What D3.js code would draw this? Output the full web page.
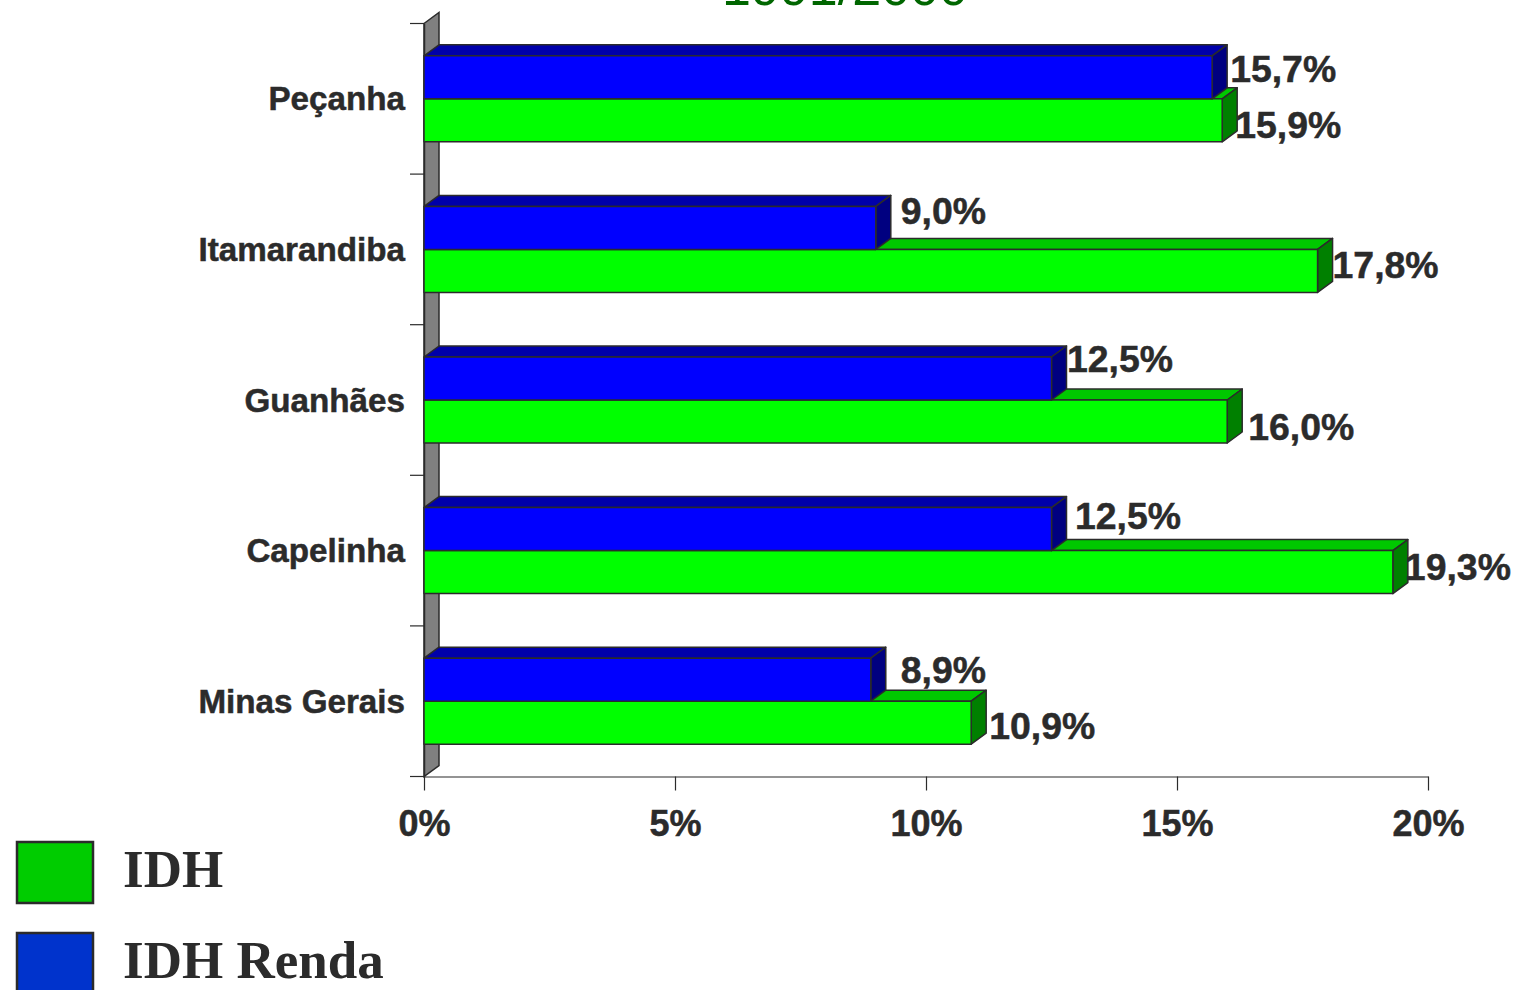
<!DOCTYPE html>
<html>
<head>
<meta charset="utf-8">
<script src="https://cdn.jsdelivr.net/npm/d3@7"></script>
<style>
  html, body { margin: 0; padding: 0; background: #fff; overflow: hidden; }
  svg { display: block; }
</style>
</head>
<body>
<svg id="chart"></svg>
<script>
const categories = ["Peçanha", "Itamarandiba", "Guanhães", "Capelinha", "Minas Gerais"];
const idh = [15.9, 17.8, 16.0, 19.3, 10.9];
const idhRenda = [15.7, 9.0, 12.5, 12.5, 8.9];
const xTicks = [0, 5, 10, 15, 20];
const titleText = "1991/2000";

// the value labels were hand placed in the original, so nudge them off the bar end
const rendaNudge = [[18, -6.5], [25, -15.5], [15.5, -18.5], [23.5, -11.5], [30, -8.5]];
const idhNudge = [[13, 6.5], [15, -4.5], [21, 6.5], [12, -3.5], [18, 4.5]];

const width = 1513;
const height = 990;
const ink = "#2b2b2b";
const depth = { x: 15, y: -11 };

const svg = d3.select("#chart").attr("width", width).attr("height", height);

const x = d3.scaleLinear().domain([0, 20]).range([424, 1428]);
const y = d3.scaleBand().domain(categories).range([23.5, 776.5]).paddingInner(0.429).paddingOuter(0.2145);
const inner = d3.scaleBand().domain(["renda", "idh"]).range([0, y.bandwidth()]);

const fmt = (v) => v.toFixed(1).replace(".", ",") + "%";

// title, cut off by the top of the page
svg.append("text")
  .attr("x", 845)
  .attr("y", 5)
  .attr("text-anchor", "middle")
  .attr("font-family", "Liberation Sans")
  .attr("font-size", 52)
  .attr("fill", "#006600")
  .text(titleText);

// gray back wall
const [y0, y1] = y.range();
svg.append("path")
  .attr("d", d3.line()([
    [x(0), y0],
    [x(0) + depth.x, y0 + depth.y],
    [x(0) + depth.x, y1 + depth.y],
    [x(0), y1],
  ]) + "Z")
  .attr("fill", "#808080")
  .attr("stroke", ink)
  .attr("stroke-width", 1.5);

// left axis: labels on the bands, ticks between the bands
const leftAxis = svg.append("g")
  .attr("transform", `translate(${x(0)},0)`)
  .call(d3.axisLeft(y).tickSize(0).tickPadding(19));
leftAxis.select(".domain").attr("stroke", ink).attr("stroke-width", 1.5);
leftAxis.selectAll("text")
  .attr("font-family", "Liberation Sans")
  .attr("font-weight", "bold")
  .attr("font-size", 33.2)
  .attr("fill", ink)
  .attr("stroke", ink)
  .attr("stroke-width", 0.5)
  .attr("dy", "0.35em");
leftAxis.selectAll(".edge")
  .data(d3.range(categories.length + 1))
  .join("line")
  .attr("class", "edge")
  .attr("x1", -14)
  .attr("x2", 0)
  .attr("y1", (i) => y0 + i * y.step())
  .attr("y2", (i) => y0 + i * y.step())
  .attr("stroke", ink)
  .attr("stroke-width", 1.2);

// bottom axis
const bottomAxis = svg.append("g")
  .attr("transform", `translate(0,${y1})`)
  .call(d3.axisBottom(x).tickValues(xTicks).tickFormat((d) => d + "%").tickSize(14).tickSizeOuter(0).tickPadding(20));
bottomAxis.select(".domain").attr("stroke", ink).attr("stroke-width", 1.2);
bottomAxis.selectAll("line").attr("stroke", ink).attr("stroke-width", 1.2);
bottomAxis.selectAll("text")
  .attr("font-family", "Liberation Sans")
  .attr("font-weight", "bold")
  .attr("font-size", 36)
  .attr("fill", ink)
  .attr("stroke", ink)
  .attr("stroke-width", 0.5);

const series = [
  { key: "idh", values: idh, front: "#00ff00", top: "#00c800", side: "#008000", nudge: idhNudge },
  { key: "renda", values: idhRenda, front: "#0000ff", top: "#0000aa", side: "#000080", nudge: rendaNudge },
];

function drawBar(g, s, i) {
  const x0 = x(0);
  const x1 = x(s.values[i]);
  const top = y(categories[i]) + inner(s.key);
  const bottom = top + inner.bandwidth();
  const line = d3.line();

  g.append("path")
    .attr("d", line([[x0, top], [x0 + depth.x, top + depth.y], [x1 + depth.x, top + depth.y], [x1, top]]) + "Z")
    .attr("fill", s.top);
  g.append("path")
    .attr("d", line([[x1, top], [x1 + depth.x, top + depth.y], [x1 + depth.x, bottom + depth.y], [x1, bottom]]) + "Z")
    .attr("fill", s.side);
  g.append("rect")
    .attr("x", x0)
    .attr("y", top)
    .attr("width", x1 - x0)
    .attr("height", bottom - top)
    .attr("fill", s.front);
  g.selectAll("path, rect")
    .attr("stroke", ink)
    .attr("stroke-width", 1.5)
    .attr("stroke-linejoin", "round");
}

// green first so the blue bar sits over its top face
const bars = svg.append("g");
categories.forEach((c, i) => {
  series.forEach((s) => {
    drawBar(bars.append("g"), s, i);
  });
});

const labels = svg.append("g")
  .attr("font-family", "Liberation Sans")
  .attr("font-weight", "bold")
  .attr("font-size", 37.4)
  .attr("fill", ink)
  .attr("stroke", ink)
  .attr("stroke-width", 0.5);
categories.forEach((c, i) => {
  series.forEach((s) => {
    const [dx, dy] = s.nudge[i];
    labels.append("text")
      .attr("x", x(s.values[i]) + dx)
      .attr("y", y(c) + inner(s.key) + inner.bandwidth() / 2 + dy)
      .attr("dy", "0.31em")
      .text(fmt(s.values[i]));
  });
});

// legend
const legendItems = [
  { name: "IDH", color: "#00cc00" },
  { name: "IDH Renda", color: "#0033cc" },
];
const legendY = d3.scalePoint().domain(legendItems.map((d) => d.name)).range([842, 933]);
const legend = svg.append("g")
  .selectAll("g")
  .data(legendItems)
  .join("g")
  .attr("transform", (d) => `translate(0,${legendY(d.name)})`);
legend.append("rect")
  .attr("x", 17)
  .attr("y", 0)
  .attr("width", 76)
  .attr("height", 61)
  .attr("fill", (d) => d.color)
  .attr("stroke", ink)
  .attr("stroke-width", 2.5);
legend.append("text")
  .attr("x", 123)
  .attr("y", 45)
  .attr("font-family", "Liberation Serif")
  .attr("font-weight", "bold")
  .attr("font-size", 53)
  .attr("fill", ink)
  .text((d) => d.name);
</script>
</body>
</html>
